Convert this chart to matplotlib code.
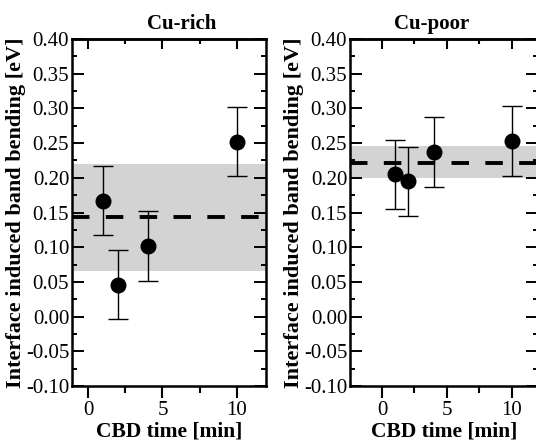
import numpy as np
import matplotlib.pyplot as plt
from matplotlib.ticker import MultipleLocator, NullFormatter

plt.rcParams['font.family'] = 'Liberation Serif'
plt.rcParams['font.size'] = 15
plt.rcParams['axes.unicode_minus'] = False

# CBD time [min] and band bending [eV]
time_rich = [1, 2, 4, 10]
bb_rich = [0.167, 0.046, 0.102, 0.252]
err_rich = [0.05, 0.05, 0.05, 0.05]
mean_rich = 0.143
band_rich = [0.066, 0.220]

time_poor = [1, 2, 4, 10]
bb_poor = [0.205, 0.195, 0.237, 0.253]
err_poor = [0.05, 0.05, 0.05, 0.05]
mean_poor = 0.222
band_poor = [0.199, 0.246]

fig = plt.figure(figsize=(5.36, 4.42), dpi=100)
ax1 = fig.add_axes([72 / 536, 56 / 442, 194 / 536, 347 / 442])
ax2 = fig.add_axes([350 / 536, 56 / 442, 188 / 536, 347 / 442])


def draw_panel(ax, t, bb, err, mean, band, xlim, title, title_x):
    ax.axhspan(band[0], band[1], color='lightgray', lw=0, zorder=0)
    ax.axhline(mean, color='black', lw=2.8, dashes=(4.5, 4.2), zorder=1)
    ax.errorbar(t, bb, yerr=err, fmt='o', color='black', ms=10.5,
                ecolor='black', elinewidth=1.0, capsize=7, capthick=1.0, zorder=3)
    ax.set_xlim(*xlim)
    ax.set_ylim(-0.10, 0.40)
    ax.xaxis.set_major_locator(MultipleLocator(5))
    ax.xaxis.set_minor_locator(MultipleLocator(2.5))
    ax.yaxis.set_major_locator(MultipleLocator(0.05))
    ax.yaxis.set_minor_locator(MultipleLocator(0.025))
    ax.yaxis.set_major_formatter(lambda v, p: f'{v:.2f}')
    ax.tick_params(axis='y', which='both', direction='in', left=True, right=True, pad=2)
    ax.tick_params(axis='y', which='major', length=8.6, width=1.4)
    ax.tick_params(axis='y', which='minor', length=3.8, width=1.4)
    ax.tick_params(axis='x', which='both', direction='out', top=False, bottom=True)
    ax.tick_params(axis='x', which='major', length=8.6, width=1.5, pad=2)
    ax.tick_params(axis='x', which='minor', length=5, width=1.5)
    # top ticks point inward
    top = ax.secondary_xaxis('top')
    top.xaxis.set_major_locator(MultipleLocator(5))
    top.xaxis.set_minor_locator(MultipleLocator(2.5))
    top.xaxis.set_major_formatter(NullFormatter())
    top.tick_params(which='both', direction='in', width=1.5)
    top.tick_params(which='major', length=7.5)
    top.tick_params(which='minor', length=3.8)
    top.spines['top'].set_linewidth(1.8)
    for s in ax.spines.values():
        s.set_linewidth(1.8)
    ax.set_xlabel('CBD time [min]', fontweight='bold', fontsize=15.5, labelpad=1)
    ax.set_ylabel('Interface induced band bending [eV]', fontweight='bold',
                  fontsize=16, labelpad=0)
    ax.set_title(title, fontweight='bold', fontsize=15, x=title_x, pad=7)


draw_panel(ax1, time_rich, bb_rich, err_rich, mean_rich, band_rich,
           (-1.07, 11.95), 'Cu-rich', 0.567)
draw_panel(ax2, time_poor, bb_poor, err_poor, mean_poor, band_poor,
           (-2.46, 12.0), 'Cu-poor', 0.436)

plt.savefig('out.png', dpi=100)
